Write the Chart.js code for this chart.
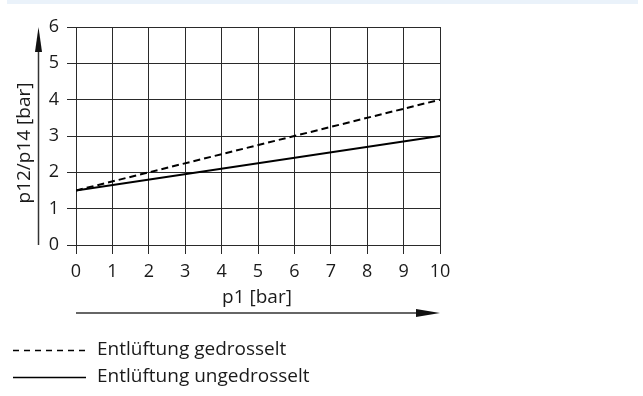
<!DOCTYPE html>
<html><head><meta charset="utf-8">
<script src="https://cdn.jsdelivr.net/npm/chart.js@4/dist/chart.umd.min.js"></script>
<style>
html,body{margin:0;padding:0;background:#fff;}
#band{position:absolute;left:7px;top:0;width:631px;height:4px;background:#eaf2fa;}
canvas{position:absolute;left:0;top:0;}
</style></head>
<body>
<div id="band"></div>
<canvas id="c" width="643" height="396"></canvas>
<script>
const xValues = [0, 10];
const gedrosselt = [1.5, 4];
const ungedrosselt = [1.5, 3];
const seriesLabels = ['Entlüftung gedrosselt', 'Entlüftung ungedrosselt'];
const xTitle = 'p1 [bar]';
const yTitle = 'p12/p14 [bar]';

const FONT = '"Open Sans", sans-serif';
const INK = '#1a1a1a';

const decor = {
  id: 'decor',
  afterDraw(chart) {
    const ctx = chart.ctx, a = chart.chartArea;
    ctx.save();
    ctx.strokeStyle = '#333'; ctx.fillStyle = '#111'; ctx.lineWidth = 1.5;
    // x arrow
    const ay = 313;
    ctx.beginPath(); ctx.moveTo(a.left, ay); ctx.lineTo(a.right - 20, ay); ctx.stroke();
    ctx.beginPath(); ctx.moveTo(a.right, ay); ctx.lineTo(a.right - 24, ay - 4); ctx.lineTo(a.right - 24, ay + 4); ctx.closePath(); ctx.fill();
    // y arrow
    const ax = 38.5;
    ctx.beginPath(); ctx.moveTo(ax, a.bottom); ctx.lineTo(ax, a.top + 20); ctx.stroke();
    ctx.beginPath(); ctx.moveTo(ax, a.top); ctx.lineTo(ax - 3.5, a.top + 25); ctx.lineTo(ax + 3.5, a.top + 25); ctx.closePath(); ctx.fill();
    // titles
    ctx.fillStyle = INK;
    ctx.font = '19px ' + FONT;
    ctx.textAlign = 'center'; ctx.textBaseline = 'middle';
    ctx.fillText(xTitle, (a.left + a.right) / 2 - 1, 298);
    ctx.save();
    ctx.translate(25, 143); ctx.rotate(-Math.PI / 2);
    ctx.fillText(yTitle, 0, 0);
    ctx.restore();
    // legend
    const ys = [350, 377];
    chart.data.datasets.forEach((ds, i) => {
      ctx.strokeStyle = ds.borderColor; ctx.lineWidth = 1.5;
      ctx.setLineDash(ds.borderDash && ds.borderDash.length ? [6, 5] : []);
      ctx.beginPath(); ctx.moveTo(13, ys[i] + 0.5); ctx.lineTo(86, ys[i] + 0.5); ctx.stroke();
      ctx.setLineDash([]);
      ctx.fillStyle = INK; ctx.textAlign = 'left'; ctx.textBaseline = 'middle';
      ctx.fillText(ds.label, 97, ys[i]);
    });
    ctx.restore();
  }
};

new Chart(document.getElementById('c'), {
  type: 'line',
  data: {
    datasets: [
      { label: seriesLabels[0], data: xValues.map((x, i) => ({x, y: gedrosselt[i]})),
        borderColor: '#000', borderWidth: 2, borderDash: [7, 4], pointRadius: 0, fill: false },
      { label: seriesLabels[1], data: xValues.map((x, i) => ({x, y: ungedrosselt[i]})),
        borderColor: '#000', borderWidth: 2, pointRadius: 0, fill: false }
    ]
  },
  options: {
    responsive: false, animation: false, devicePixelRatio: 1,
    layout: { padding: { left: 0, right: 203, top: 27, bottom: 0 } },
    plugins: { legend: { display: false }, tooltip: { enabled: false } },
    scales: {
      x: { type: 'linear', min: 0, max: 10,
        afterFit(s) { s.height = 396 - 245; },
        ticks: { stepSize: 1, color: INK, font: { family: FONT, size: 18 }, padding: 7, maxRotation: 0 },
        grid: { color: '#2a2a2a', lineWidth: 1, tickLength: 9, drawTicks: true },
        border: { color: '#2a2a2a', width: 1 } },
      y: { min: 0, max: 6,
        afterFit(s) { s.width = 76; },
        ticks: { stepSize: 1, color: INK, font: { family: FONT, size: 18 }, padding: 8 },
        grid: { color: '#2a2a2a', lineWidth: 1, tickLength: 9, drawTicks: true },
        border: { color: '#2a2a2a', width: 1 } }
    }
  },
  plugins: [decor]
});
</script>
</body></html>
